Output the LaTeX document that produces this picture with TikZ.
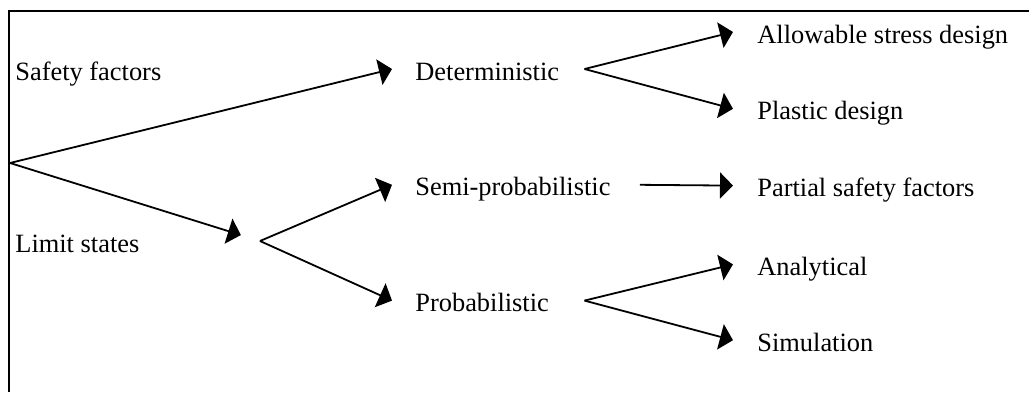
\documentclass[tikz,border=0pt]{standalone}
\usepackage{fontspec}
\setmainfont{Liberation Serif}
\usetikzlibrary{arrows.meta,positioning}

\begin{document}
\begin{tikzpicture}[x=0.5pt,y=-0.5pt,
    lbl/.style={inner sep=0pt,text height=11pt,text depth=0pt,font=\fontsize{13.2}{15}\selectfont,anchor=base west},
    a/.style={-{Triangle[length=6.5pt,width=13pt]},line width=0.9pt}]
    \useasboundingbox (0,0) rectangle (1029,392);
    \draw[line width=1.1pt] (1029,11) -- (9,11) -- (9,392);
    \node[lbl] (safety) at (15,80) {Safety factors};
    \node[lbl] (limit) at (15,252) {Limit states};
    \node[lbl] (det) at (415,80) {Deterministic};
    \node[lbl,below=46.5pt of det.south west,anchor=north west] (semi) {Semi-probabilistic};
    \node[lbl,below=46.5pt of semi.south west,anchor=north west] (prob) {Probabilistic};
    \node[lbl] (allow) at (757,43) {Allowable stress design};
    \node[lbl,below=27pt of allow.south west,anchor=north west] (plastic) {Plastic design};
    \node[lbl,below=27pt of plastic.south west,anchor=north west] (partial) {Partial safety factors};
    \node[lbl,below=28pt of partial.south west,anchor=north west] (analyt) {Analytical};
    \node[lbl,below=26.5pt of analyt.south west,anchor=north west] (sim) {Simulation};
    \coordinate (root) at (10,163);
    \coordinate (lsfork) at (260,241);
    \coordinate (detfork) at ([xshift=12.5pt]det.east);
    \coordinate (probfork) at (detfork |- prob.east);
    \draw[a] (root) -- ([xshift=-11.5pt]det.west); \draw[a,shorten >=10pt] (root) -- (lsfork);
    \draw[a] (lsfork) -- ([xshift=-11.5pt]semi.west); \draw[a] (lsfork) -- ([xshift=-11.5pt]prob.west);
    \draw[a] (detfork) -- ([xshift=-12pt]allow.west); \draw[a] (detfork) -- ([xshift=-12pt]plastic.west);
    \draw[a] ([xshift=14.5pt]semi.east) -- ([xshift=-12pt]partial.west);
    \draw[a] (probfork) -- ([xshift=-12pt]analyt.west); \draw[a] (probfork) -- ([xshift=-12pt]sim.west);
  \end{tikzpicture}
\end{document}
